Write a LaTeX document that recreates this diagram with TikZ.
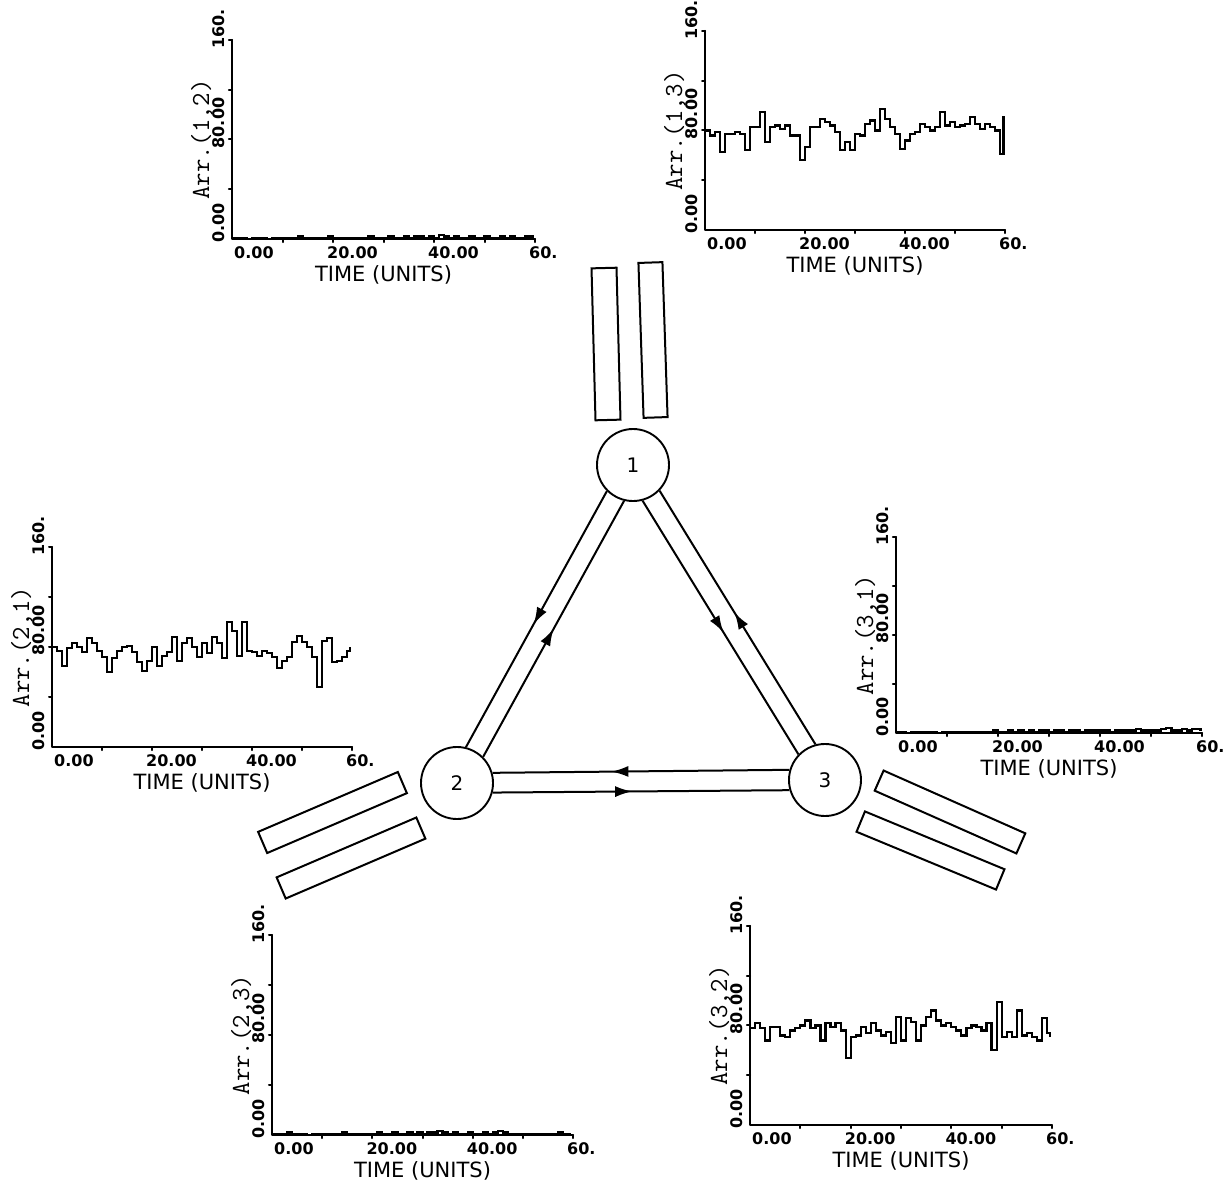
\documentclass[tikz,border=0pt]{standalone}
\usepackage{fontspec}
\usetikzlibrary{arrows.meta,decorations.markings}
\newfontfamily\tickfont{DejaVu Sans}
\tikzset{
 axisline/.style={line width=2pt, line cap=round, line join=round},
 dataline/.style={line width=2.2pt, line join=miter},
 xlab/.style={font=\tickfont\bfseries\fontsize{16}{16}\selectfont, inner sep=0pt, xshift=-6pt, yshift=-14pt, anchor=west},
 ylab/.style={font=\tickfont\bfseries\fontsize{16}{16}\selectfont, inner sep=0pt, xshift=-13pt, yshift=-9pt, rotate=90, anchor=west},
 ylabzero/.style={font=\tickfont\bfseries\fontsize{16}{16}\selectfont, inner sep=0pt, xshift=-13pt, yshift=-4pt, rotate=90, anchor=west},
 arrlab/.style={font=\ttfamily\fontsize{26}{26}\selectfont, inner sep=0pt, xshift=-30pt, rotate=90},
 timelab/.style={font=\tickfont\fontsize{21}{21}\selectfont, inner sep=0pt, yshift=-42pt, anchor=base},
 station/.style={circle, draw, line width=1.9pt, minimum size=72pt, inner sep=0pt, font=\tickfont\fontsize{20}{20}\selectfont},
 qbox/.style={draw, rectangle, line width=2pt, inner sep=0pt},
 link/.style={line width=2pt},
 marr/.style={postaction={decorate}, decoration={markings, mark=at position #1 with {\arrow{Latex[length=17pt,width=11pt]}}}},
}
% #1 id, #2 origin, #3 x unit, #4 y unit, #5 label, #6 data
\newcommand{\qplot}[6]{%
\begin{scope}[shift={#2}, x=#3pt, y=#4pt]
 \draw[axisline] (0,160) -- (0,0) -- (60,0);
 \foreach \t in {10,20,30,40,50,60} \draw[axisline] (\t,0) -- ++(0,-2.5);
 \foreach \v in {40,80,120,160} \draw[axisline] (0,\v) -- ++(-0.6,0);
 \draw[dataline] plot[const plot] coordinates {#6};
 \node[xlab, xshift=8pt] (#1-x0) at (0,0) {0.00};
 \node[xlab] (#1-x20) at (20,0) {20.00};
 \node[xlab] (#1-x40) at (40,0) {40.00};
 \node[xlab] (#1-x60) at (60,0) {60.};
 \node[ylabzero] (#1-y0) at (0,0) {0.00};
 \node[ylab] (#1-y80) at (0,80) {80.00};
 \node[ylab] (#1-y160) at (0,160) {160.};
 \node[arrlab] (#1-lab) at (0,80) {#5};
 \node[timelab] (#1-time) at (30,0) {TIME (UNITS)};
\end{scope}}
\begin{document}
\begin{tikzpicture}[x=1pt,y=-1pt]
\fill[white] (0,0) rectangle (1229,1194);
\useasboundingbox (0,0) rectangle (1229,1194);

% ---- plots ----
\qplot{p12}{(232,239)}{5.05}{1.244}{Arr.(1,2)}{(0,1) (1,1) (2,1) (3,0) (4,1) (5,1) (6,1) (7,0) (8,1) (9,1) (10,1) (11,1) (12,1) (13,2) (14,1) (15,1) (16,1) (17,1) (18,1) (19,2) (20,1) (21,1) (22,1) (23,1) (24,1) (25,1) (26,1) (27,2) (28,1) (29,1) (30,1) (31,2) (32,1) (33,1) (34,2) (35,1) (36,2) (37,2) (38,1) (39,2) (40,1) (41,3) (42,2) (43,1) (44,2) (45,1) (46,1) (47,2) (48,1) (49,1) (50,2) (51,1) (52,1) (53,2) (54,1) (55,2) (56,1) (57,1) (58,2) (59,2) (59.6,1)}

\qplot{p13}{(705,230)}{5.0}{1.244}{Arr.(1,3)}{(0,80) (1,76) (2,79) (3,63) (4,77) (5,77) (6,79) (7,77) (8,64) (9,83) (10,83) (11,95) (12,71) (13,83) (14,84) (15,81) (16,84) (17,76) (18,76) (19,56) (20,67) (21,83) (22,83) (23,89) (24,87) (25,84) (26,79) (27,64) (28,71) (29,64) (30,77) (31,76) (32,85) (33,88) (34,80) (35,97) (36,89) (37,83) (38,77) (39,65) (40,72) (41,77) (42,79) (43,85) (44,83) (45,80) (46,83) (47,95) (48,84) (49,87) (50,83) (51,84) (52,85) (53,91) (54,85) (55,81) (56,85) (57,83) (58,80) (59,61) (59.7,92)}

\qplot{p21}{(52,747)}{5.0}{1.25}{Arr.(2,1)}{(0,80) (1,77) (2,65) (3,79) (4,83) (5,80) (6,76) (7,87) (8,83) (9,77) (10,72) (11,60) (12,71) (13,77) (14,80) (15,81) (16,76) (17,68) (18,61) (19,69) (20,80) (21,65) (22,73) (23,76) (24,88) (25,69) (26,83) (27,87) (28,80) (29,72) (30,83) (31,75) (32,88) (33,83) (34,71) (35,100) (36,93) (37,73) (38,100) (39,77) (40,76) (41,73) (42,77) (43,75) (44,72) (45,63) (46,69) (47,72) (48,84) (49,89) (50,84) (51,80) (52,72) (53,48) (54,85) (55,87) (56,68) (57,69) (58,72) (59,77) (59.6,80)}

\qplot{p31}{(896,733)}{5.1}{1.225}{Arr.(3,1)}{(0,1) (1,1) (2,0) (3,1) (4,1) (5,1) (6,1) (7,1) (8,0) (9,1) (10,1) (11,1) (12,1) (13,1) (14,1) (15,1) (16,1) (17,1) (18,1) (19,2) (20,1) (21,1) (22,2) (23,1) (24,2) (25,1) (26,2) (27,1) (28,2) (29,2) (30,1) (31,2) (32,2) (33,1) (34,2) (35,2) (36,1) (37,2) (38,2) (39,2) (40,2) (41,2) (42,1) (43,2) (44,2) (45,2) (46,2) (47,3) (48,2) (49,2) (50,2) (51,2) (52,3) (53,4) (54,2) (55,2) (56,3) (57,2) (58,3) (59,3) (59.7,2)}

\qplot{p23}{(272,1135)}{5.017}{1.25}{Arr.(2,3)}{(0,1) (1,1) (2,1) (3,2) (4,1) (5,1) (6,1) (7,0) (8,1) (9,1) (10,1) (11,1) (12,1) (13,1) (14,2) (15,1) (16,1) (17,1) (18,1) (19,1) (20,1) (21,2) (22,1) (23,1) (24,2) (25,1) (26,1) (27,2) (28,1) (29,2) (30,1) (31,2) (32,2) (33,3) (34,2) (35,1) (36,2) (37,1) (38,1) (39,2) (40,1) (41,1) (42,2) (43,1) (44,2) (45,3) (46,2) (47,1) (48,1) (49,1) (50,1) (51,1) (52,1) (53,1) (54,1) (55,1) (56,1) (57,2) (58,1) (59,1) (59.6,1)}

\qplot{p32}{(750,1125)}{5.033}{1.244}{Arr.(3,2)}{(0,78) (1,82) (2,78) (3,68) (4,79) (5,79) (6,72) (7,71) (8,76) (9,78) (10,80) (11,84) (12,78) (13,80) (14,68) (15,82) (16,79) (17,82) (18,76) (19,54) (20,71) (21,72) (22,79) (23,74) (24,82) (25,76) (26,72) (27,75) (28,66) (29,87) (30,68) (31,86) (32,83) (33,68) (34,80) (35,87) (36,92) (37,84) (38,80) (39,82) (40,79) (41,76) (42,72) (43,78) (44,80) (45,79) (46,76) (47,82) (48,60) (49,99) (50,71) (51,75) (52,71) (53,92) (54,72) (55,74) (56,71) (57,68) (58,86) (59,74) (59.6,71)}

% ---- queues ----
\node[qbox, minimum width=25pt, minimum height=152pt, rotate=1.5] (qa) at (606,344) {};
\node[qbox, minimum width=24pt, minimum height=155pt, rotate=1.9] (qb) at (653,340) {};
\node[qbox, minimum width=152pt, minimum height=23pt, rotate=23.2] (qc) at (332.5,812.5) {};
\node[qbox, minimum width=152pt, minimum height=23pt, rotate=23.2] (qd) at (351,858) {};
\node[qbox, minimum width=155pt, minimum height=22pt, rotate=-23.9] (qe) at (950,812) {};
\node[qbox, minimum width=151pt, minimum height=22pt, rotate=-22.5] (qf) at (930.5,850.5) {};

% ---- stations ----
\node[station] (n1) at (633,465) {1};
\node[station] (n2) at (457,783) {2};
\node[station] (n3) at (825,780) {3};

% ---- links ----
\draw[link, marr=0.52] (n1.225.5) -- (n2.76.5);
\draw[link, marr=0.5] (n2.45.5) -- (n1.256.5);
\draw[link, marr=0.52] (n1.285.9) -- (n3.136.9);
\draw[link, marr=0.52] (n3.105.9) -- (n1.316.9);
\draw[link, marr=0.6] (n3.164.9) -- (n2.16);
\draw[link, marr=0.47] (n2.345) -- (n3.196);
\end{tikzpicture}
\end{document}
